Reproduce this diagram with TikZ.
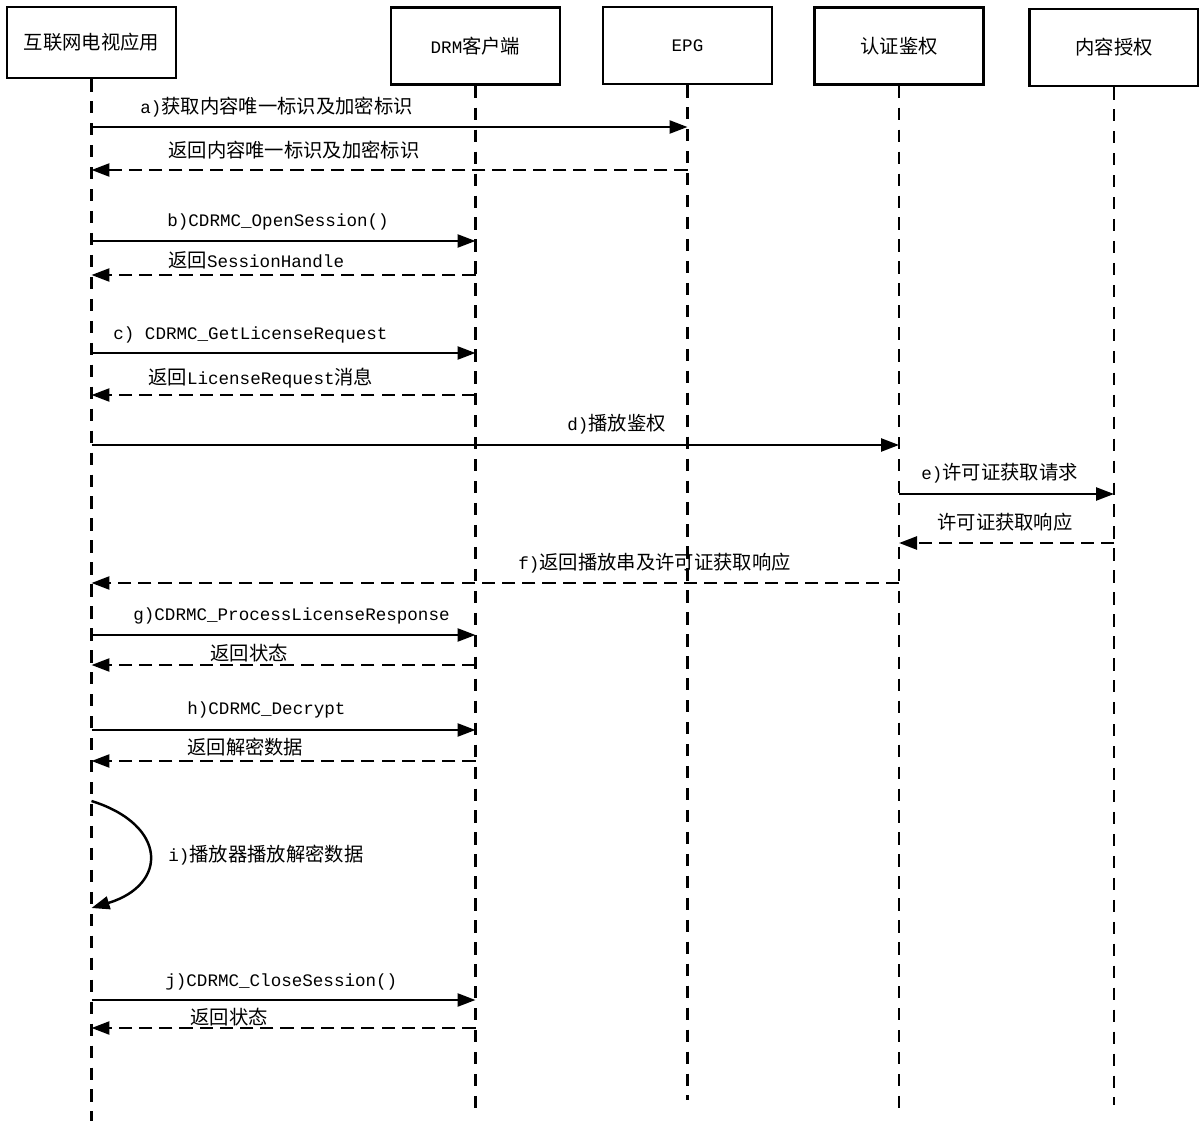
\documentclass[tikz,border=0pt]{standalone}
\usepackage{fontspec}
\setmainfont{Liberation Mono}
\newfontfamily\cjk{Noto Sans CJK SC}
\usetikzlibrary{arrows.meta}
\newcommand{\zh}[1]{{\cjk\fontsize{11}{13}\selectfont #1}}

\tikzset{
  actor/.style={draw, line width=1.4pt, minimum width=3.38cm, minimum height=1.54cm, inner sep=0pt, font=\fontsize{10}{13}\selectfont},
  life/.style={line width=1.3pt, dash pattern=on 7pt off 5.5pt},
  msg/.style={line width=1.4pt, -{Triangle[length=0.36cm,width=0.26cm]}},
  ret/.style={msg, dash pattern=on 7.5pt off 4pt},
  lbl/.style={anchor=west, inner sep=0pt, font=\fontsize{10}{13}\selectfont}
}

\begin{document}
\begin{tikzpicture}[x=0.02cm, y=-0.02cm]
        \useasboundingbox (0,0) rectangle (1199,1121);

        % participants
        \node[actor, minimum height=1.42cm] (app) at (91.5,42.5) {\zh{互联网电视应用}};
        \node[actor] (drm) at (475.5,46) {DRM\zh{客户端}};
        \node[actor] (epg) at (687.5,45.5) {EPG};
        \node[actor] (auth) at (899,46) {\zh{认证鉴权}};
        \node[actor] (cont) at (1114,47.5) {\zh{内容授权}};

        % lifelines
        \coordinate (append) at (92,1121);
        \coordinate (drmend) at (476,1108);
        \coordinate (epgend) at (687,1100);
        \coordinate (authend) at (898,1110);
        \coordinate (contend) at (1117,1105);
        \draw[life] (app.south) -- (app.south |- append);
        \draw[life] (drm.south) -- (drm.south |- drmend);
        \draw[life] (epg.south) -- (epg.south |- epgend);
        \draw[life] (auth.south) -- (auth.south |- authend);
        \draw[life] (cont.south) -- (cont.south |- contend);

        % message rows
        \coordinate (ra) at (0,127);
        \coordinate (rar) at (0,170);
        \coordinate (rb) at (0,241);
        \coordinate (rbr) at (0,275);
        \coordinate (rc) at (0,353);
        \coordinate (rcr) at (0,395);
        \coordinate (rd) at (0,445);
        \coordinate (re) at (0,494);
        \coordinate (rer) at (0,543);
        \coordinate (rf) at (0,583);
        \coordinate (rg) at (0,635);
        \coordinate (rgr) at (0,665);
        \coordinate (rh) at (0,730);
        \coordinate (rhr) at (0,761);
        \coordinate (ri1) at (0,801);
        \coordinate (ri2) at (0,908);
        \coordinate (rj) at (0,1000);
        \coordinate (rjr) at (0,1028);

        \draw[msg] (app |- ra) -- (epg |- ra);
        \draw[ret] (epg |- rar) -- (app |- rar);
        \draw[msg] (app |- rb) -- (drm |- rb);
        \draw[ret] (drm |- rbr) -- (app |- rbr);
        \draw[msg] (app |- rc) -- (drm |- rc);
        \draw[ret] (drm |- rcr) -- (app |- rcr);
        \draw[msg] (app |- rd) -- (auth |- rd);
        \draw[msg] (auth |- re) -- (cont |- re);
        \draw[ret] (cont |- rer) -- (auth |- rer);
        \draw[ret] (auth |- rf) -- (app |- rf);
        \draw[msg] (app |- rg) -- (drm |- rg);
        \draw[ret] (drm |- rgr) -- (app |- rgr);
        \draw[msg] (app |- rh) -- (drm |- rh);
        \draw[ret] (drm |- rhr) -- (app |- rhr);
        \draw[msg] (app |- ri1) .. controls (168,825) and (168,885) .. (app |- ri2);
        \draw[msg] (app |- rj) -- (drm |- rj);
        \draw[ret] (drm |- rjr) -- (app |- rjr);

        % labels
        \node[lbl] (la) at (140,107) {a)\zh{获取内容唯一标识及加密标识}};
        \node[lbl] (lar) at (168,150) {\zh{返回内容唯一标识及加密标识}};
        \node[lbl] (lb) at (167,222) {b)CDRMC\_OpenSession()};
        \node[lbl] (lbr) at (168,260) {\zh{返回}SessionHandle};
        \node[lbl] (lc) at (113,335) {c) CDRMC\_GetLicenseRequest};
        \node[lbl] (lcr) at (148,378) {\zh{返回}LicenseRequest\zh{消息}};
        \node[lbl] (ld) at (567,424) {d)\zh{播放鉴权}};
        \node[lbl] (le) at (921,473) {e)\zh{许可证获取请求}};
        \node[lbl] (ler) at (937,522) {\zh{许可证获取响应}};
        \node[lbl] (lf) at (518,563) {f)\zh{返回播放串及许可证获取响应}};
        \node[lbl] (lg) at (133,616) {g)CDRMC\_ProcessLicenseResponse};
        \node[lbl] (lgr) at (210,653) {\zh{返回状态}};
        \node[lbl] (lh) at (187,710) {h)CDRMC\_Decrypt};
        \node[lbl] (lhr) at (187,747) {\zh{返回解密数据}};
        \node[lbl] (li) at (168,855) {i)\zh{播放器播放解密数据}};
        \node[lbl] (lj) at (165,982) {j)CDRMC\_CloseSession()};
        \node[lbl] (ljr) at (190,1017) {\zh{返回状态}};
    \end{tikzpicture}
\end{document}
